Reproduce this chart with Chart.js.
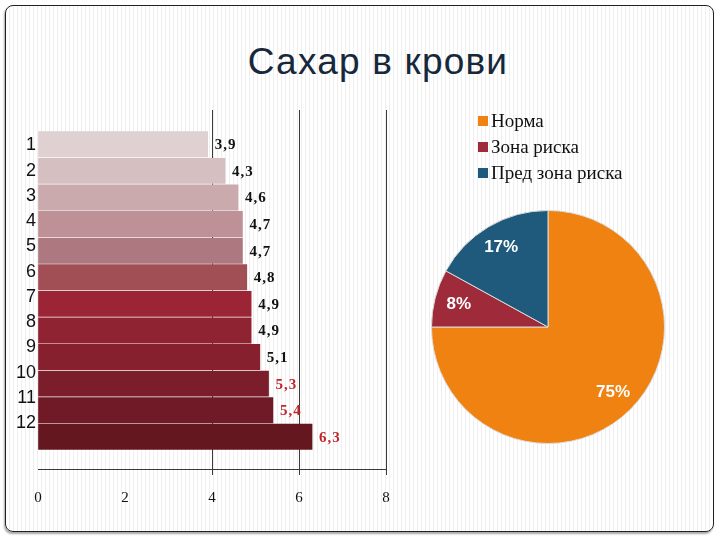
<!DOCTYPE html>
<html>
<head>
<meta charset="utf-8">
<script src="https://cdn.jsdelivr.net/npm/chart.js@4/dist/chart.umd.min.js"></script>
<style>
  html, body { margin: 0; padding: 0; width: 720px; height: 540px; background: #fff; overflow: hidden; }
  #slide {
    position: absolute; left: 5px; top: 5px; width: 707px; height: 525px;
    border: 1.5px solid #222; border-radius: 8px;
    box-shadow: -1px 2px 2px rgba(0,0,0,0.35);
    background: repeating-linear-gradient(90deg, #ffffff 0px, #ffffff 3px, #efefef 3px, #efefef 4px);
  }
  #title {
    position: absolute; left: 18px; top: 40px; width: 720px; height: 44px; line-height: 44px;
    text-align: center; font-family: "Liberation Sans", Arial, sans-serif; font-size: 37px;
    letter-spacing: 1.2px; color: #17283a;
  }
  #barWrap { position: absolute; left: 0; top: 90px; width: 420px; height: 440px; }
  #pieWrap { position: absolute; left: 420px; top: 100px; width: 290px; height: 360px; }
</style>
</head>
<body>
<div id="slide"></div>
<div id="title">Сахар в крови</div>
<div id="barWrap"><canvas id="bars"></canvas></div>
<div id="pieWrap"><canvas id="pie"></canvas></div>
<script>
// data
const categories = ["1", "2", "3", "4", "5", "6", "7", "8", "9", "10", "11", "12"];
const sugarLevels = [3.9, 4.3, 4.6, 4.7, 4.7, 4.8, 4.9, 4.9, 5.1, 5.3, 5.4, 6.3];
const xTicks = [0, 2, 4, 6, 8];
const pieLabels = ["Норма", "Зона риска", "Пред зона риска"];
const pieValues = [75, 8, 17];

// styles
const barColors = ["#dfd0d1", "#d6bfc1", "#cbaaad", "#be9196", "#ad7880", "#a14e55",
  "#9b2535", "#902332", "#86202f", "#7b1d2b", "#6f1a26", "#64171f"];
const pieColors = ["#ef8210", "#9e2a3a", "#1f5a7d"];
const lineColor = "#3a3a3a";
// the category labels sit a little tighter than the bars in the original
const labelStep = 0.95;

const barValueLabels = {
  id: "barValueLabels",
  afterDatasetsDraw(chart) {
    const ctx = chart.ctx;
    ctx.save();
    ctx.font = 'bold 15px "Liberation Serif"';
    ctx.letterSpacing = "1px";
    ctx.textBaseline = "middle";
    ctx.textAlign = "left";
    chart.getDatasetMeta(0).data.forEach((bar, i) => {
      const v = sugarLevels[i];
      ctx.fillStyle = v > 5.2 ? "#c0272d" : "#111";
      ctx.fillText(v.toFixed(1).replace(".", ","), bar.x + 7, bar.y + 1);
    });
    ctx.restore();
  },
};

new Chart(document.getElementById("bars"), {
  type: "bar",
  data: {
    datasets: [{
      data: sugarLevels.map((v, i) => ({ x: v, y: i + 1 })),
      backgroundColor: barColors,
      borderWidth: 0,
      categoryPercentage: 1,
      barPercentage: 1,
    }],
  },
  options: {
    indexAxis: "y",
    responsive: true,
    maintainAspectRatio: false,
    animation: false,
    layout: { padding: { top: 20, right: 34, bottom: 0, left: 0 } },
    plugins: { legend: { display: false }, tooltip: { enabled: false } },
    scales: {
      x: {
        type: "linear",
        min: 0,
        max: 8,
        afterBuildTicks: (scale) => { scale.ticks = xTicks.map((v) => ({ value: v })); },
        afterFit: (scale) => { scale.height = 61; },
        grid: {
          color: (c) => (c.tick && c.tick.value >= 4 ? lineColor : "rgba(0,0,0,0)"),
          tickLength: 6,
        },
        border: { display: true, color: lineColor, width: 1 },
        ticks: {
          padding: 14,
          color: "#111",
          font: { family: "Liberation Serif", size: 15 },
        },
      },
      y: {
        type: "linear",
        offset: false,
        reverse: true,
        min: -0.29,
        max: 13.21,
        afterBuildTicks: (scale) => {
          scale.ticks = categories.map((c, i) => ({ value: 1.04 + i * labelStep, label: c }));
        },
        afterFit: (scale) => { scale.width = 38; },
        grid: { display: false, drawTicks: false, offset: false },
        border: { display: false },
        ticks: {
          padding: 2,
          color: "#111",
          font: { family: "Liberation Sans", size: 18 },
          callback: (value, index) => categories[index],
        },
      },
    },
  },
  plugins: [barValueLabels],
});

const pieExtras = {
  id: "pieExtras",
  afterDatasetsDraw(chart) {
    const ctx = chart.ctx;
    const total = pieValues.reduce((a, b) => a + b, 0);
    ctx.save();
    // percentage labels inside slices
    ctx.font = 'bold 17px "Liberation Sans"';
    ctx.fillStyle = "#ffffff";
    ctx.textAlign = "center";
    ctx.textBaseline = "middle";
    chart.getDatasetMeta(0).data.forEach((arc, i) => {
      const mid = (arc.startAngle + arc.endAngle) / 2;
      const r = arc.outerRadius * 0.79;
      const pct = Math.round((pieValues[i] / total) * 100) + "%";
      ctx.fillText(pct, arc.x + Math.cos(mid) * r, arc.y + Math.sin(mid) * r);
    });
    // vertical legend above the pie
    ctx.font = '19px "Liberation Serif"';
    ctx.textAlign = "left";
    pieLabels.forEach((label, i) => {
      const y = 21 + i * 26;
      ctx.fillStyle = pieColors[i];
      ctx.fillRect(58, y - 5, 10, 10);
      ctx.fillStyle = "#111";
      ctx.fillText(label, 71, y + 1);
    });
    ctx.restore();
  },
};

new Chart(document.getElementById("pie"), {
  type: "pie",
  data: {
    labels: pieLabels,
    datasets: [{
      data: pieValues,
      backgroundColor: pieColors,
      borderColor: "#dcdcdc",
      borderWidth: 1,
    }],
  },
  options: {
    responsive: true,
    maintainAspectRatio: false,
    animation: false,
    layout: { padding: { left: 11, right: 45, top: 110, bottom: 16 } },
    plugins: { legend: { display: false }, tooltip: { enabled: false } },
  },
  plugins: [pieExtras],
});
</script>
</body>
</html>
